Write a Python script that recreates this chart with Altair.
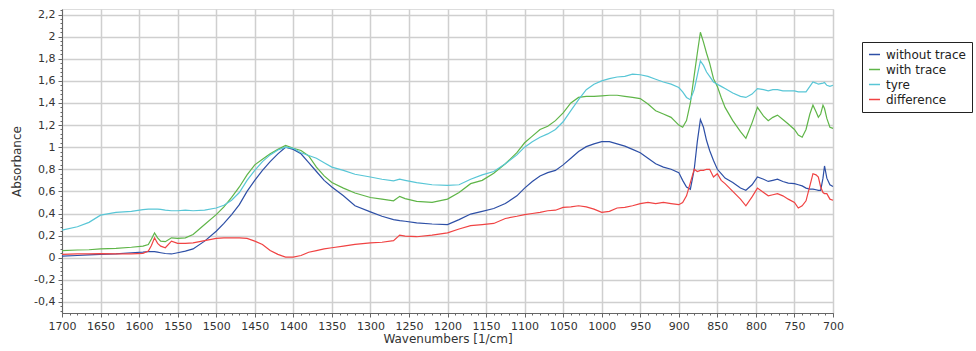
import altair as alt
import pandas as pd

wavenumbers = [1700, 1680, 1665, 1650, 1630, 1610, 1595, 1588, 1584, 1580, 1576, 1572, 1566, 1558,
               1550, 1540, 1530, 1515, 1500, 1490, 1480, 1470, 1460, 1450, 1440, 1430, 1420, 1410,
               1400, 1390, 1380, 1370, 1360, 1350, 1335, 1320, 1300, 1285, 1270, 1262, 1255, 1240,
               1220, 1200, 1185, 1170, 1155, 1140, 1125, 1110, 1100, 1090, 1080, 1070, 1060, 1050,
               1040, 1030, 1020, 1010, 1000, 990, 980, 970, 960, 950, 940, 930, 920, 910, 900, 895,
               890, 885, 880, 876, 872, 868, 864, 860, 855, 850, 845, 840, 830, 820, 813, 805, 798,
               790, 784, 778, 772, 765, 758, 750, 745, 740, 735, 730, 726, 722, 719, 716, 713, 711,
               708, 704, 700]

without_trace = [0.015, 0.02, 0.025, 0.03, 0.035, 0.045, 0.05, 0.055, 0.055, 0.055, 0.05, 0.045, 0.038, 0.034,
                 0.045, 0.06, 0.08, 0.15, 0.24, 0.31, 0.39, 0.48, 0.60, 0.70, 0.79, 0.87, 0.94, 1.0,
                 0.98, 0.94, 0.86, 0.78, 0.70, 0.64, 0.56, 0.47, 0.415, 0.375, 0.345, 0.335, 0.33, 0.315,
                 0.305, 0.30, 0.345, 0.395, 0.42, 0.445, 0.49, 0.56, 0.63, 0.69, 0.74, 0.77, 0.79, 0.84,
                 0.90, 0.96, 1.005, 1.03, 1.05, 1.05, 1.03, 1.01, 0.98, 0.95, 0.90, 0.85, 0.82, 0.80, 0.77, 0.70,
                 0.64, 0.62, 0.80, 1.05, 1.25, 1.18, 1.06, 0.97, 0.88, 0.80, 0.76, 0.72, 0.68, 0.63, 0.61, 0.66, 0.73,
                 0.71, 0.69, 0.70, 0.71, 0.69, 0.675, 0.67, 0.66, 0.65, 0.63, 0.62, 0.62, 0.615, 0.61, 0.61, 0.72, 0.83,
                 0.72, 0.66, 0.645]

with_trace = [0.065, 0.07, 0.072, 0.08, 0.085, 0.095, 0.105, 0.12, 0.17, 0.225, 0.18, 0.15, 0.145, 0.18,
              0.175, 0.18, 0.21, 0.30, 0.39, 0.46, 0.545, 0.64, 0.75, 0.84, 0.89, 0.94, 0.98, 1.015,
              0.99, 0.97, 0.92, 0.82, 0.74, 0.68, 0.63, 0.585, 0.545, 0.53, 0.515, 0.555, 0.535, 0.51,
              0.50, 0.53, 0.59, 0.67, 0.70, 0.765, 0.85, 0.95, 1.04, 1.10, 1.16, 1.19, 1.24, 1.31,
              1.40, 1.45, 1.46, 1.46, 1.465, 1.47, 1.47, 1.46, 1.45, 1.44, 1.39, 1.33, 1.30, 1.27, 1.20, 1.18,
              1.24, 1.40, 1.65, 1.85, 2.04, 1.95, 1.85, 1.76, 1.62, 1.55, 1.45, 1.36, 1.24, 1.14, 1.08, 1.22, 1.36,
              1.28, 1.24, 1.27, 1.29, 1.25, 1.21, 1.16, 1.11, 1.09, 1.16, 1.30, 1.38, 1.32, 1.27, 1.30, 1.38, 1.35,
              1.26, 1.18, 1.17]

tyre = [0.25, 0.28, 0.32, 0.385, 0.41, 0.42, 0.435, 0.44, 0.44, 0.44, 0.44, 0.437, 0.43, 0.425,
        0.425, 0.43, 0.425, 0.43, 0.45, 0.475, 0.52, 0.59, 0.70, 0.79, 0.87, 0.93, 0.975, 1.0,
        0.99, 0.95, 0.925, 0.90, 0.86, 0.82, 0.79, 0.755, 0.73, 0.71, 0.695, 0.71, 0.70, 0.68,
        0.66, 0.655, 0.66, 0.71, 0.75, 0.78, 0.85, 0.93, 1.0, 1.05, 1.09, 1.12, 1.16, 1.23,
        1.33, 1.43, 1.52, 1.57, 1.60, 1.62, 1.635, 1.64, 1.66, 1.655, 1.64, 1.615, 1.59, 1.57, 1.54, 1.50,
        1.45, 1.43, 1.52, 1.65, 1.78, 1.74, 1.68, 1.64, 1.59, 1.57, 1.55, 1.53, 1.49, 1.46, 1.45, 1.48, 1.53,
        1.52, 1.51, 1.52, 1.52, 1.51, 1.51, 1.51, 1.50, 1.50, 1.50, 1.55, 1.59, 1.58, 1.57, 1.575, 1.58, 1.585,
        1.56, 1.55, 1.56]

difference = [0.03, 0.035, 0.035, 0.038, 0.035, 0.035, 0.04, 0.06, 0.11, 0.18, 0.13, 0.105, 0.09, 0.15,
              0.13, 0.13, 0.135, 0.155, 0.175, 0.18, 0.18, 0.18, 0.175, 0.15, 0.12, 0.065, 0.03, 0.006,
              0.005, 0.02, 0.05, 0.065, 0.08, 0.09, 0.105, 0.12, 0.135, 0.14, 0.155, 0.205, 0.195, 0.19,
              0.205, 0.225, 0.26, 0.29, 0.30, 0.31, 0.355, 0.375, 0.39, 0.40, 0.41, 0.425, 0.43, 0.455,
              0.46, 0.47, 0.46, 0.44, 0.41, 0.42, 0.45, 0.455, 0.47, 0.49, 0.50, 0.49, 0.50, 0.49, 0.48, 0.50,
              0.56, 0.68, 0.80, 0.78, 0.79, 0.79, 0.80, 0.80, 0.73, 0.76, 0.70, 0.67, 0.60, 0.53, 0.47, 0.55, 0.63,
              0.59, 0.56, 0.57, 0.58, 0.56, 0.53, 0.50, 0.45, 0.47, 0.515, 0.65, 0.76, 0.75, 0.73, 0.64, 0.59, 0.58,
              0.58, 0.53, 0.52]

series_names = ["without trace", "with trace", "tyre", "difference"]
series_colors = ["#2d4fa6", "#5fb548", "#58c6d6", "#f04343"]

x_ticks = [1700, 1650, 1600, 1550, 1500, 1450, 1400, 1350, 1300, 1250, 1200, 1150, 1100,
           1050, 1000, 950, 900, 850, 800, 750, 700]
x_minor = list(range(700, 1701, 10))
y_ticks = [-0.4, -0.2, 0, 0.2, 0.4, 0.6, 0.8, 1.0, 1.2, 1.4, 1.6, 1.8, 2.0, 2.2]
y_minor = [round(-0.48 + 0.04 * i, 2) for i in range(70)]

rows = []
for name, vals in zip(series_names, [without_trace, with_trace, tyre, difference]):
    for i, (w, v) in enumerate(zip(wavenumbers, vals)):
        rows.append({"wn": w, "val": v, "series": name, "order": i})
df = pd.DataFrame(rows)

FONT = "DejaVu Sans"
y_label_expr = "replace(toString(round(datum.value*10)/10), '.', ',')"
x_label_expr = "toString(datum.value)"

x_scale = alt.Scale(domain=[700, 1700], reverse=True, nice=False, zero=False)
y_scale = alt.Scale(domain=[-0.5, 2.25], nice=False, zero=False)

base = alt.Chart(df)

minor = base.mark_point(opacity=0).encode(
    x=alt.X("wn:Q", scale=x_scale,
            axis=alt.Axis(values=x_minor, orient="bottom", title=None, labels=False, grid=False,
                          domain=False, tickSize=2, tickColor="#666")),
    y=alt.Y("val:Q", scale=y_scale,
            axis=alt.Axis(values=y_minor, orient="left", title=None, labels=False, grid=False,
                          domain=False, tickSize=2, tickColor="#666")),
)

lines = base.mark_line(strokeWidth=1.2).encode(
    x=alt.X("wn:Q", scale=x_scale,
            axis=alt.Axis(values=x_ticks, orient="bottom", title="Wavenumbers [1/cm]", grid=True,
                          labelExpr=x_label_expr,
                          gridColor="#cfcfcf", gridWidth=1.5, tickSize=4, tickColor="#666",
                          domainColor="#666", labelFont=FONT, labelFontSize=11, labelColor="#333",
                          labelPadding=3, titleFont=FONT, titleFontSize=12, titleFontWeight="normal",
                          titleColor="#333", titlePadding=2, labelFlush=False)),
    y=alt.Y("val:Q", scale=y_scale,
            axis=alt.Axis(values=y_ticks, orient="left", title="Absorbance", grid=True,
                          labelExpr=y_label_expr,
                          gridColor="#cfcfcf", gridWidth=1.5, tickSize=4, tickColor="#666",
                          domainColor="#666", labelFont=FONT, labelFontSize=11, labelColor="#333",
                          labelPadding=3, titleFont=FONT, titleFontSize=12, titleFontWeight="normal",
                          titleColor="#333", titlePadding=10)),
    color=alt.Color("series:N", sort=series_names,
                    scale=alt.Scale(domain=series_names, range=series_colors),
                    legend=alt.Legend(title=None, orient="none", legendX=800, legendY=33,
                                      strokeColor="#222", fillColor="white", padding=6,
                                      symbolType="stroke", symbolSize=120, symbolStrokeWidth=1.5,
                                      labelFont=FONT, labelFontSize=12, labelColor="#222",
                                      rowPadding=2, labelOffset=5)),
    order="order:Q",
)

chart = alt.layer(minor, lines).resolve_axis(x="independent", y="independent").properties(
    width=771, height=304,
    autosize=alt.AutoSizeParams(type="none"),
    padding={"left": 62, "top": 9, "right": 143, "bottom": 38},
).configure_view(stroke=None).configure(background="white")

chart.save("out.html", embed_options={"renderer": "svg", "actions": False})
